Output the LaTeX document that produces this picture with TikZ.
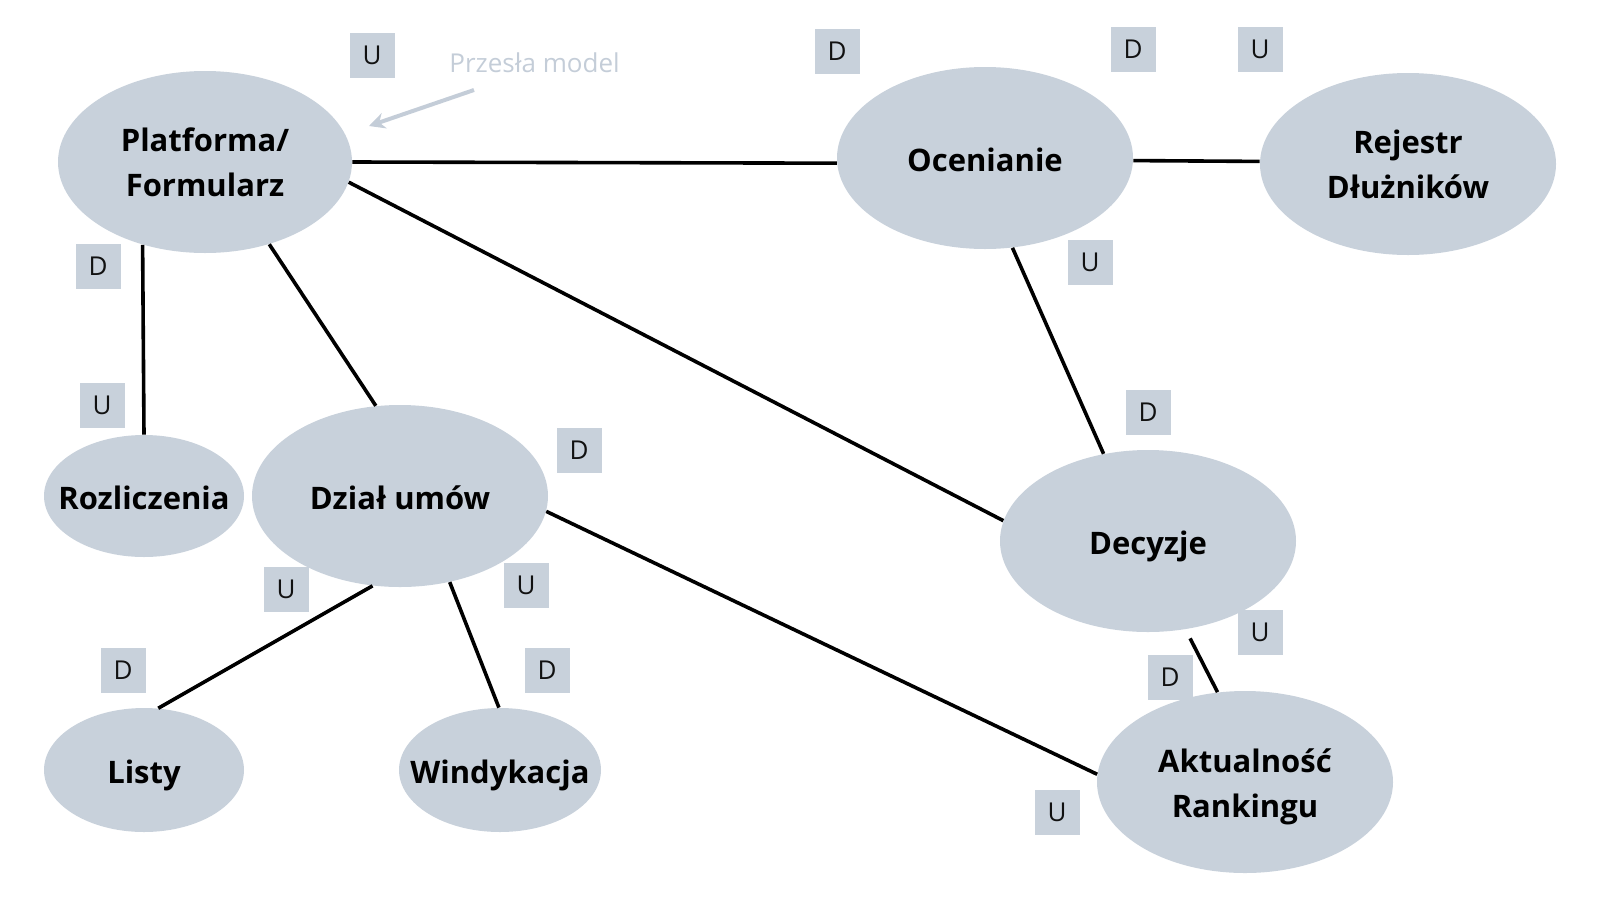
\documentclass[tikz,border=0pt]{standalone}
\usepackage{fontspec}
\setmainfont{Open Sans}
\usetikzlibrary{shapes.geometric,arrows.meta}
\definecolor{nodefill}{RGB}{200,209,219}
\definecolor{notecol}{RGB}{196,205,216}
\definecolor{txt}{RGB}{17,17,17}
\tikzset{
  ell/.style={ellipse,fill=nodefill,inner sep=0pt,align=center,text=black,
    font=\fontsize{15.5pt}{22.5pt}\selectfont\bfseries},
  oneline/.style={text height=13pt,text depth=0pt},
  tag/.style={fill=nodefill,minimum size=22.5pt,inner sep=0pt,text=txt,
    font=\fontsize{13pt}{15pt}\selectfont},
  link/.style={line width=1.8pt,black},
  note/.style={text=notecol,inner sep=0pt,font=\fontsize{13pt}{15pt}\selectfont},
}
\begin{document}
\begin{tikzpicture}[x=0.5pt,y=-0.5pt]
\useasboundingbox (0,0) rectangle (1600,900);
% ellipses
\node[ell,minimum width=147pt,minimum height=91pt] (plat) at (205,162) {Platforma/\\Formularz};
\node[ell,oneline,minimum width=148pt,minimum height=91pt] (ocen) at (985,158) {Ocenianie};
\node[ell,minimum width=148pt,minimum height=91pt] (rej) at (1408,164) {Rejestr\\Dłużników};
\node[ell,oneline,inner xsep=-12pt,minimum width=100pt,minimum height=61pt] (rozl) at (144,496) {Rozliczenia};
\node[ell,oneline,minimum width=148pt,minimum height=91pt] (dzial) at (400,496) {Dział umów};
\node[ell,oneline,minimum width=148pt,minimum height=91pt] (dec) at (1148,541) {Decyzje};
\node[ell,oneline,minimum width=100pt,minimum height=62pt] (listy) at (144,770) {Listy};
\node[ell,oneline,inner xsep=-12pt,minimum width=101pt,minimum height=62pt] (wind) at (500,770) {Windykacja};
\node[ell,minimum width=148pt,minimum height=91pt] (akt) at (1245,782) {\rule{0pt}{17pt}Aktualność\\Rankingu};
% connectors
\draw[link] (plat.-0.5) -- (ocen.182.5);
\draw[link] (ocen.-1.5) -- (rej.179.6);
\draw[link] (plat.-8.2) -- (dec.172.7);
\draw[link] (plat.233) -- (rozl.90);
\draw[link] (plat.-52.8) -- (dzial.105.9);
\draw[link] (ocen.-73.8) -- (dec.117.9);
\draw[link,shorten <=5pt] (dec.-67.5) -- (akt.107.7);
\draw[link] (dzial.-6.6) -- (akt.177.7);
\draw[link] (dzial.253.9) -- (listy.77.5);
\draw[link] (dzial.-60.2) -- (wind.91.9);
% annotation
\node[note,anchor=west] (przes) at (449,63) {Przesła model};
\coordinate (arrS) at (474,90);
\coordinate (arrE) at (369,126);
\draw[line width=2pt,notecol,-{Stealth[length=8pt,width=8pt]}] (arrS) -- (arrE);
% tags
\node[tag] (t1) at (372,55) {U};
\node[tag] (t2) at (98,266) {D};
\node[tag] (t3) at (102,405) {U};
\node[tag] (t4) at (579,450) {D};
\node[tag] (t5) at (286,589) {U};
\node[tag] (t6) at (526,585) {U};
\node[tag] (t7) at (123,670) {D};
\node[tag] (t8) at (547,670) {D};
\node[tag] (t9) at (837,51) {D};
\node[tag] (t10) at (1133,49) {D};
\node[tag] (t11) at (1260,49) {U};
\node[tag] (t12) at (1090,262) {U};
\node[tag] (t13) at (1148,412) {D};
\node[tag] (t14) at (1260,632) {U};
\node[tag] (t15) at (1170,677) {D};
\node[tag] (t16) at (1057,812) {U};
\end{tikzpicture}
\end{document}
